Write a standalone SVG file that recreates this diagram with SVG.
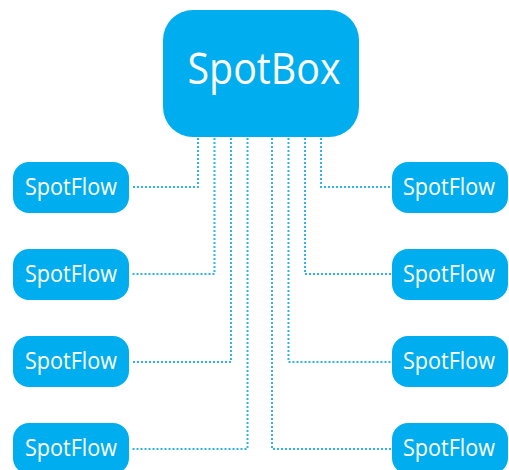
<svg xmlns="http://www.w3.org/2000/svg" width="509" height="470" viewBox="0 0 509 470">
<style>
.box{fill:#00aeef}
.t{fill:#fff;font-family:"Open Sans","Liberation Sans",sans-serif;text-anchor:middle}
.c{fill:none;stroke:#2fb3e8;stroke-width:2;stroke-dasharray:2 2}
</style>
<rect width="509" height="470" fill="#fff"/>
<g id="connectors">
<path class="c" d="M198 138V187H131"/>
<path class="c" d="M214.5 138V274H131"/>
<path class="c" d="M231 138V362H131"/>
<path class="c" d="M247.5 138V449H131"/>
<path class="c" d="M321 138V187H391"/>
<path class="c" d="M305 138V274H391"/>
<path class="c" d="M288.5 138V362H391"/>
<path class="c" d="M272 138V449H391"/>
</g>
<g id="spotbox"><rect class="box" x="163" y="10" width="196" height="127" rx="30"/><text class="t" x="264" y="84" font-size="44" textLength="153" lengthAdjust="spacingAndGlyphs">SpotBox</text></g>
<g id="flow-l1"><rect class="box" x="13" y="162" width="116" height="51" rx="16"/><text class="t" x="71" y="195" font-size="24" textLength="92" lengthAdjust="spacingAndGlyphs">SpotFlow</text></g>
<g id="flow-l2"><rect class="box" x="13" y="249" width="116" height="51" rx="16"/><text class="t" x="71" y="282" font-size="24" textLength="92" lengthAdjust="spacingAndGlyphs">SpotFlow</text></g>
<g id="flow-l3"><rect class="box" x="13" y="336" width="116" height="51" rx="16"/><text class="t" x="71" y="369" font-size="24" textLength="92" lengthAdjust="spacingAndGlyphs">SpotFlow</text></g>
<g id="flow-l4"><rect class="box" x="13" y="423" width="116" height="51" rx="16"/><text class="t" x="71" y="456" font-size="24" textLength="92" lengthAdjust="spacingAndGlyphs">SpotFlow</text></g>
<g id="flow-r1"><rect class="box" x="392" y="162" width="116" height="51" rx="16"/><text class="t" x="449" y="195" font-size="24" textLength="92" lengthAdjust="spacingAndGlyphs">SpotFlow</text></g>
<g id="flow-r2"><rect class="box" x="392" y="249" width="116" height="51" rx="16"/><text class="t" x="449" y="282" font-size="24" textLength="92" lengthAdjust="spacingAndGlyphs">SpotFlow</text></g>
<g id="flow-r3"><rect class="box" x="392" y="336" width="116" height="51" rx="16"/><text class="t" x="449" y="369" font-size="24" textLength="92" lengthAdjust="spacingAndGlyphs">SpotFlow</text></g>
<g id="flow-r4"><rect class="box" x="392" y="423" width="116" height="51" rx="16"/><text class="t" x="449" y="456" font-size="24" textLength="92" lengthAdjust="spacingAndGlyphs">SpotFlow</text></g>
</svg>
